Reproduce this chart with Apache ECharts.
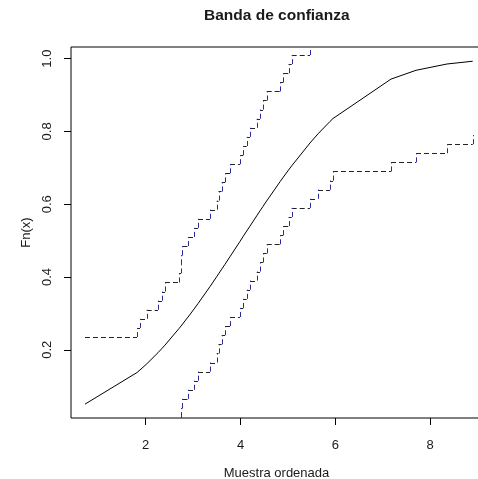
<!DOCTYPE html>
<html>
<head>
<meta charset="utf-8">
<script src="https://cdn.jsdelivr.net/npm/echarts@6/dist/echarts.min.js"></script>
<style>
  html, body { margin: 0; padding: 0; background: #ffffff; }
  #chart { width: 478px; height: 479px; }
</style>
</head>
<body>
<div id="chart"></div>
<script>
// Ordered sample (40 observations)
const sampleX = [
  0.719, 1.816, 1.880, 2.021, 2.259, 2.344, 2.407, 2.703, 2.745, 2.755,
  2.776, 2.892, 3.019, 3.103, 3.357, 3.498, 3.536, 3.603, 3.673, 3.778,
  3.989, 4.059, 4.131, 4.200, 4.342, 4.411, 4.475, 4.553, 4.833, 4.903,
  5.013, 5.080, 5.466, 5.635, 5.888, 5.951, 7.175, 7.703, 8.357, 8.899
];

// Theoretical distribution function at each observation
const cdfValues = [
  0.0505, 0.1374, 0.1446, 0.1611, 0.1919, 0.2038, 0.2128, 0.2583, 0.2651, 0.2667,
  0.2703, 0.2898, 0.3118, 0.3267, 0.3737, 0.4009, 0.4083, 0.4213, 0.4349, 0.4558,
  0.4976, 0.5120, 0.5263, 0.5398, 0.5679, 0.5816, 0.5940, 0.6091, 0.6616, 0.6743,
  0.6938, 0.7054, 0.7682, 0.7933, 0.8274, 0.8354, 0.9438, 0.9680, 0.9853, 0.9929
];

// Upper confidence band level from each observation onwards
const upperBand = [
  0.235, 0.260, 0.285, 0.310, 0.335, 0.360, 0.385, 0.410, 0.435, 0.460,
  0.485, 0.510, 0.535, 0.560, 0.585, 0.610, 0.635, 0.660, 0.685, 0.710,
  0.735, 0.760, 0.785, 0.810, 0.835, 0.860, 0.885, 0.910, 0.935, 0.960,
  0.985, 1.010, 1.035, 1.060, 1.085, 1.110, 1.135, 1.160, 1.185, 1.210
];

// Lower confidence band level from each observation onwards
const lowerBand = [
  -0.185, -0.160, -0.135, -0.110, -0.085, -0.060, -0.035, -0.010, 0.015, 0.040,
  0.065, 0.090, 0.115, 0.140, 0.165, 0.190, 0.215, 0.240, 0.265, 0.290,
  0.315, 0.340, 0.365, 0.390, 0.415, 0.440, 0.465, 0.490, 0.515, 0.540,
  0.565, 0.590, 0.615, 0.640, 0.665, 0.690, 0.715, 0.740, 0.765, 0.790
];

const xTicks = [2, 4, 6, 8];
const yTicks = [0.2, 0.4, 0.6, 0.8, 1.0];

const FONT = '"Liberation Sans", Arial, sans-serif';
const TEXT_COLOR = '#1a1a1a';
const H_COLOR = '#222222';
const V_COLOR = '#2a2aa0';
const DASH = [5, 3];

// Split a step function (horizontal first, then vertical) into its pieces
function stepPieces(levels) {
  const horiz = [];
  const vert = [];
  for (let i = 0; i < sampleX.length; i++) {
    if (i > 0) vert.push([sampleX[i], levels[i - 1], levels[i]]);
    if (i < sampleX.length - 1) horiz.push([sampleX[i], sampleX[i + 1], levels[i]]);
  }
  return { horiz, vert };
}

function renderHoriz(params, api) {
  const a = api.coord([api.value(0), api.value(2)]);
  const b = api.coord([api.value(1), api.value(2)]);
  const y = Math.round(a[1]) + 0.5;
  return {
    type: 'line',
    shape: { x1: a[0], y1: y, x2: b[0], y2: y },
    style: { stroke: H_COLOR, lineWidth: 1, lineDash: DASH }
  };
}

function renderVert(params, api) {
  const a = api.coord([api.value(0), api.value(1)]);
  const b = api.coord([api.value(0), api.value(2)]);
  const x = Math.round(a[0]) + 0.5;
  return {
    type: 'line',
    shape: { x1: x, y1: a[1], x2: x, y2: b[1] },
    style: { stroke: V_COLOR, lineWidth: 1, lineDash: DASH }
  };
}

const up = stepPieces(upperBand);
const lo = stepPieces(lowerBand);

function bandSeries(name, pieces) {
  return [
    {
      name: name + '-h', type: 'custom', clip: true, silent: true,
      renderItem: renderHoriz, data: pieces.horiz,
      encode: { x: [0, 1], y: 2 }
    },
    {
      name: name + '-v', type: 'custom', clip: true, silent: true,
      renderItem: renderVert, data: pieces.vert,
      encode: { x: 0, y: [1, 2] }
    }
  ];
}

const chart = echarts.init(document.getElementById('chart'), null, { renderer: 'canvas' });

chart.setOption({
  animation: false,
  backgroundColor: '#ffffff',
  title: {
    text: 'Banda de confianza',
    left: 204,
    top: 8,
    padding: 0,
    textStyle: { fontFamily: FONT, fontSize: 15.5, fontWeight: 'bold', color: TEXT_COLOR }
  },
  grid: {
    left: 71, top: 47, right: -4, bottom: 61,
    outerBoundsMode: 'none',
    containLabel: false,
    show: true, borderColor: '#000000', borderWidth: 1, backgroundColor: 'transparent'
  },
  xAxis: {
    type: 'value',
    min: 0.424,
    max: 9.095,
    name: 'Muestra ordenada',
    nameLocation: 'middle',
    nameGap: 49,
    nameTextStyle: { fontFamily: FONT, fontSize: 13, color: TEXT_COLOR },
    axisLine: { show: false, onZero: false },
    axisTick: { show: true, inside: false, length: 7, lineStyle: { color: '#000' }, customValues: xTicks },
    axisLabel: {
      fontFamily: FONT, fontSize: 13, color: TEXT_COLOR, margin: 21,
      customValues: xTicks,
      formatter: v => String(v)
    },
    splitLine: { show: false }
  },
  yAxis: {
    type: 'value',
    min: 0.0125,
    max: 1.032,
    name: 'Fn(x)',
    nameLocation: 'middle',
    nameGap: 37,
    nameRotate: 90,
    nameTextStyle: { fontFamily: FONT, fontSize: 13, color: TEXT_COLOR },
    axisLine: { show: false, onZero: false },
    axisTick: { show: true, inside: false, length: 7, lineStyle: { color: '#000' }, customValues: yTicks },
    axisLabel: {
      fontFamily: FONT, fontSize: 13, color: TEXT_COLOR, margin: 17, rotate: 90,
      customValues: yTicks,
      formatter: v => v.toFixed(1)
    },
    splitLine: { show: false }
  },
  series: [
    {
      name: 'F', type: 'line', showSymbol: false, symbol: 'none', silent: true,
      data: sampleX.map((x, i) => [x, cdfValues[i]]),
      lineStyle: { color: '#000000', width: 1 },
      clip: true, z: 3
    },
    ...bandSeries('upper', up),
    ...bandSeries('lower', lo)
  ]
});
</script>
</body>
</html>
